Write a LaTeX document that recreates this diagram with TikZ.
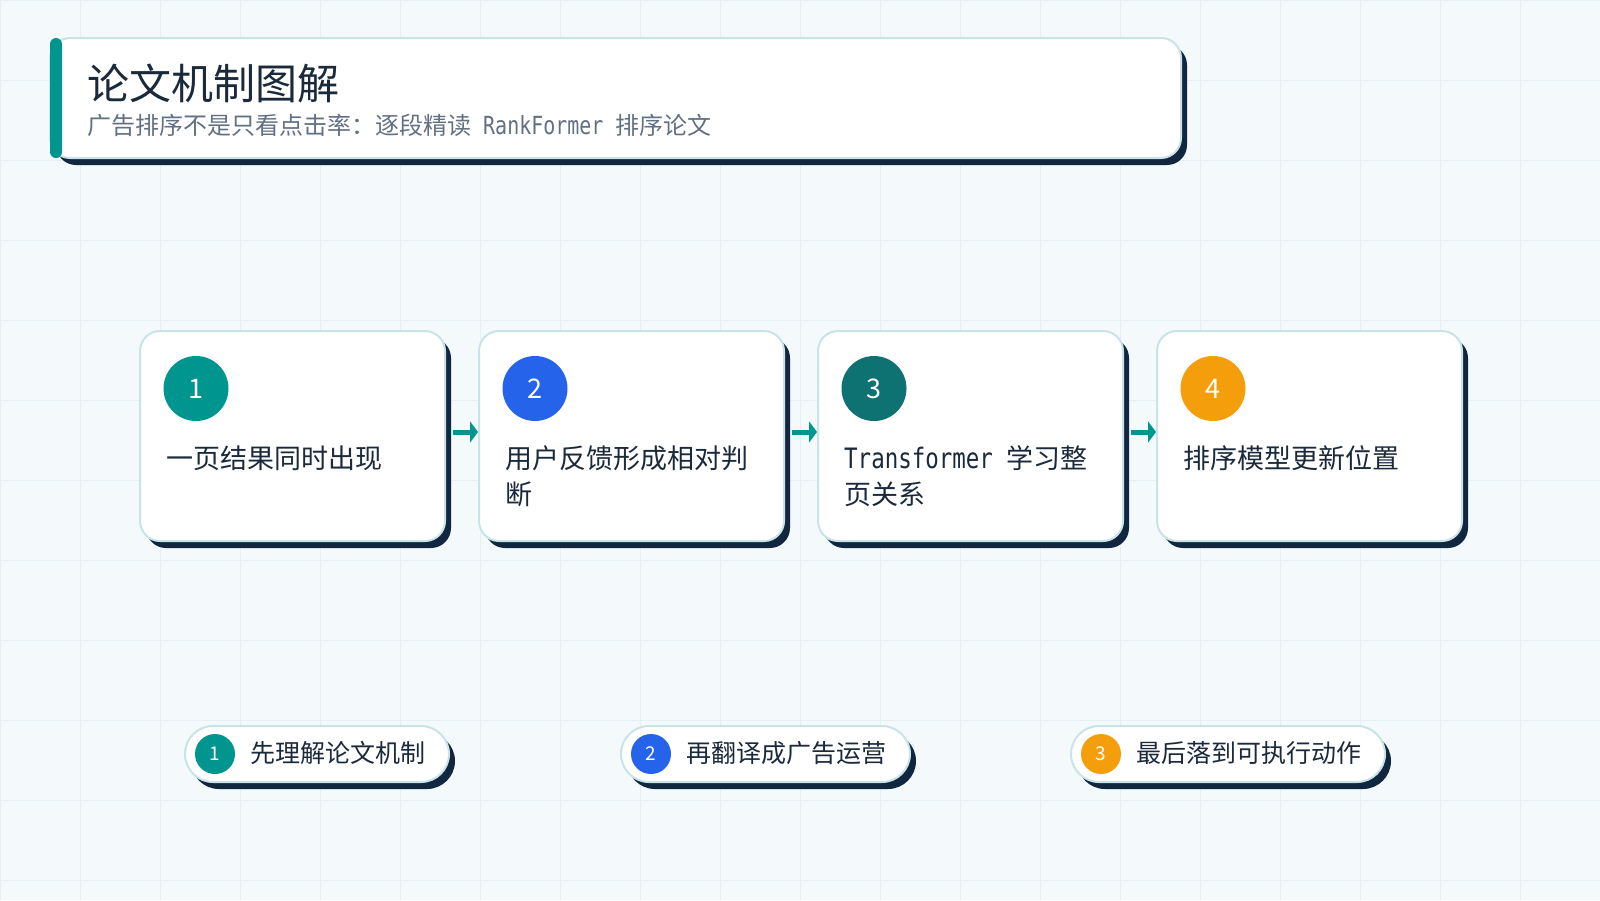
\documentclass[tikz,border=0pt]{standalone}
\usepackage{fontspec}
\setmainfont{Noto Sans CJK SC}
\newfontfamily\monolat{DejaVu Sans Mono}[FakeStretch=0.8,Scale=1.04]
\usetikzlibrary{arrows.meta,shadows}

\definecolor{pagebg}{HTML}{F4F9FB}
\definecolor{gridc}{HTML}{E4F0F3}
\definecolor{shadownavy}{HTML}{10273F}
\definecolor{cardline}{HTML}{C9E4E9}
\definecolor{accent}{HTML}{00968F}
\definecolor{stepblue}{HTML}{2563EB}
\definecolor{deepteal}{HTML}{0E7272}
\definecolor{steporange}{HTML}{F59E0B}
\definecolor{inkc}{HTML}{1B2A3B}
\definecolor{subc}{HTML}{617083}

\tikzset{
  navyshadow/.style={drop shadow={shadow xshift=6pt,shadow yshift=-7pt,fill=shadownavy,opacity=1}},
  card/.style={draw=cardline, line width=2pt, fill=white, rounded corners=20pt,
    minimum width=305pt, minimum height=210pt, inner sep=0pt, navyshadow},
  pill/.style={draw=cardline, line width=2pt, fill=white, rounded corners=28pt,
    minimum height=56pt, inner sep=0pt, navyshadow},
  numdot/.style={circle, minimum size=65pt, inner sep=0pt, text=white,
    font={\fontsize{27}{30}\selectfont}},
  smalldot/.style={circle, minimum size=40pt, inner sep=0pt, text=white,
    font={\fontsize{19}{22}\selectfont}},
  cardtext/.style={anchor=base west, inner sep=0pt, align=left, text=inkc,
    font={\fontsize{27}{36}\selectfont}},
  pilltext/.style={anchor=base west, inner sep=0pt, text=inkc,
    font={\fontsize{25}{30}\selectfont}},
  flow/.style={draw=accent, line width=5pt, -{Triangle[length=8pt,width=21pt]}},
}

\begin{document}
\begin{tikzpicture}[x=1pt,y=-1pt]
  % page and grid
  \fill[pagebg] (0,0) rectangle (1600,900);
  \useasboundingbox (0,0) rectangle (1600,900);
  \foreach \gx in {0,80,...,1600} \draw[gridc, line width=1pt] (\gx,0) -- (\gx,900);
  \foreach \gy in {0,80,...,880} \draw[gridc, line width=1pt] (0,\gy) -- (1600,\gy);

  % header
  \node[draw=cardline, line width=2pt, fill=white, rounded corners=20pt,
    minimum width=1131pt, minimum height=120pt, navyshadow] (head) at (615.5,98) {};
  \fill[accent, rounded corners=6pt] (50,38) rectangle (62,158);
  \node[anchor=base west, inner sep=0pt, text=inkc, font={\fontsize{42}{50}\selectfont}]
    (title) at (87,99) {论文机制图解};
  \node[anchor=base west, inner sep=0pt, text=subc, font={\fontsize{24}{28}\selectfont}]
    (subtitle) at (87,134) {广告排序不是只看点击率：逐段精读{\monolat\ RankFormer\ }排序论文};

  % step cards
  \node[card] (c1) at (292.5,436) {};
  \node[card] (c2) at (631.5,436) {};
  \node[card] (c3) at (970.5,436) {};
  \node[card] (c4) at (1309.5,436) {};

  \node[numdot, fill=accent] (n1) at (196,388.5) {1};
  \node[numdot, fill=stepblue] (n2) at (535,388.5) {2};
  \node[numdot, fill=deepteal] (n3) at (874,388.5) {3};
  \node[numdot, fill=steporange] (n4) at (1213,388.5) {4};

  % base of a two-line text is its second line
  \node[cardtext] (t1) at (166,468) {一页结果同时出现};
  \node[cardtext] (t2) at (505,504) {用户反馈形成相对判\\断};
  \node[cardtext] (t3) at (844,504) {{\monolat Transformer }学习整\\页关系};
  \node[cardtext] (t4) at (1183,468) {排序模型更新位置};

  \draw[flow] ([xshift=7pt,yshift=4pt]c1.east) -- ([yshift=4pt]c2.west);
  \draw[flow] ([xshift=7pt,yshift=4pt]c2.east) -- ([yshift=4pt]c3.west);
  \draw[flow] ([xshift=7pt,yshift=4pt]c3.east) -- ([yshift=4pt]c4.west);

  % reading path
  \node[pill, minimum width=264pt] (p1) at (317,754) {};
  \node[pill, minimum width=289pt] (p2) at (765.5,754) {};
  \node[pill, minimum width=314pt] (p3) at (1228,754) {};

  \node[smalldot, fill=accent] (m1) at (215,754) {1};
  \node[smalldot, fill=stepblue] (m2) at (651,754) {2};
  \node[smalldot, fill=steporange] (m3) at (1101,754) {3};

  \node[pilltext] (q1) at (250,762) {先理解论文机制};
  \node[pilltext] (q2) at (686,762) {再翻译成广告运营};
  \node[pilltext] (q3) at (1136,762) {最后落到可执行动作};
\end{tikzpicture}
\end{document}
